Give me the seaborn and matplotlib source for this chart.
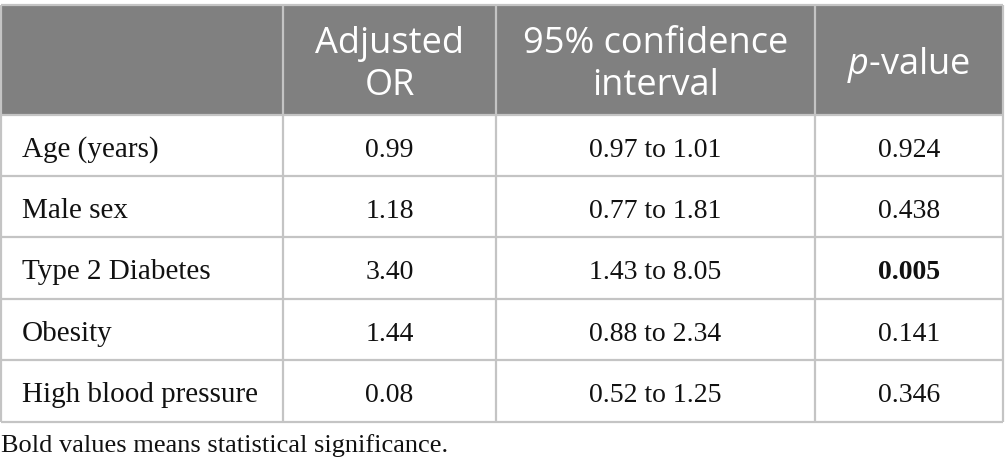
import matplotlib
matplotlib.use("Agg")
import matplotlib.pyplot as plt
import seaborn as sns

# ---- data ----
header_labels = [["Adjusted", "OR"], ["95% confidence", "interval"], ["$p$-value"]]
variables = ["Age (years)", "Male sex", "Type 2 Diabetes", "Obesity", "High blood pressure"]
adjusted_or = ["0.99", "1.18", "3.40", "1.44", "0.08"]
conf_int = ["0.97 to 1.01", "0.77 to 1.81", "1.43 to 8.05", "0.88 to 2.34", "0.52 to 1.25"]
p_values = ["0.924", "0.438", "0.005", "0.141", "0.346"]
significant = [False, False, True, False, False]
footnote = "Bold values means statistical significance."

# ---- style ----
sns.set_theme(style="white")
plt.rcParams["mathtext.fontset"] = "custom"
plt.rcParams["mathtext.it"] = "Open Sans:italic"
plt.rcParams["mathtext.rm"] = "Open Sans"

W, H = 1005, 474
fig = plt.figure(figsize=(W / 100, H / 100), dpi=100)
ax = fig.add_axes([0, 0, 1, 1])
ax.set_xlim(0, W)
ax.set_ylim(H, 0)
ax.axis("off")

header_bg = "#808080"
line_c = "#c4c4c4"
txt_c = "#111111"
head_font = "Open Sans"
body_font = "Liberation Serif"

col_edges = [0.5, 283, 496, 815, 1003]
top = 4.5
head_bottom = 115
row_edges = [115, 176, 237, 299, 360, 422]

# header background
ax.fill_between([col_edges[0], col_edges[-1]], top, head_bottom, color=header_bg, lw=0, zorder=1)

# grid lines
for y in [top] + row_edges:
    ax.plot([col_edges[0], col_edges[-1]], [y, y], color=line_c, lw=1.6, zorder=3, solid_capstyle="butt")
for x in col_edges:
    ax.plot([x, x], [top, row_edges[-1]], color=line_c, lw=1.6, zorder=3, solid_capstyle="butt")

centers = [(col_edges[i] + col_edges[i + 1]) / 2 for i in range(1, 4)]

# header text
for cx, lines in zip(centers, header_labels):
    baselines = [53, 95] if len(lines) == 2 else [74]
    for ln, by in zip(lines, baselines):
        ax.text(cx, by, ln, ha="center", va="baseline", color="white",
                fontsize=26, family=head_font, zorder=4)

# body
for i, (var, orv, ci, pv, sig) in enumerate(zip(variables, adjusted_or, conf_int, p_values, significant)):
    by = row_edges[i] + 42
    ax.text(22, by, var, ha="left", va="baseline", fontsize=21, family=body_font, color=txt_c, zorder=4)
    ax.text(centers[0], by, orv, ha="center", va="baseline", fontsize=20, family=body_font, color=txt_c, zorder=4)
    ax.text(centers[1], by, ci, ha="center", va="baseline", fontsize=20, family=body_font, color=txt_c, zorder=4)
    ax.text(centers[2], by, pv, ha="center", va="baseline", fontsize=20, family=body_font, color=txt_c,
            fontweight="bold" if sig else "normal", zorder=4)

ax.text(1, 452, footnote, ha="left", va="baseline", fontsize=19, family=body_font, color=txt_c)

fig.savefig("out.png", dpi=100)
